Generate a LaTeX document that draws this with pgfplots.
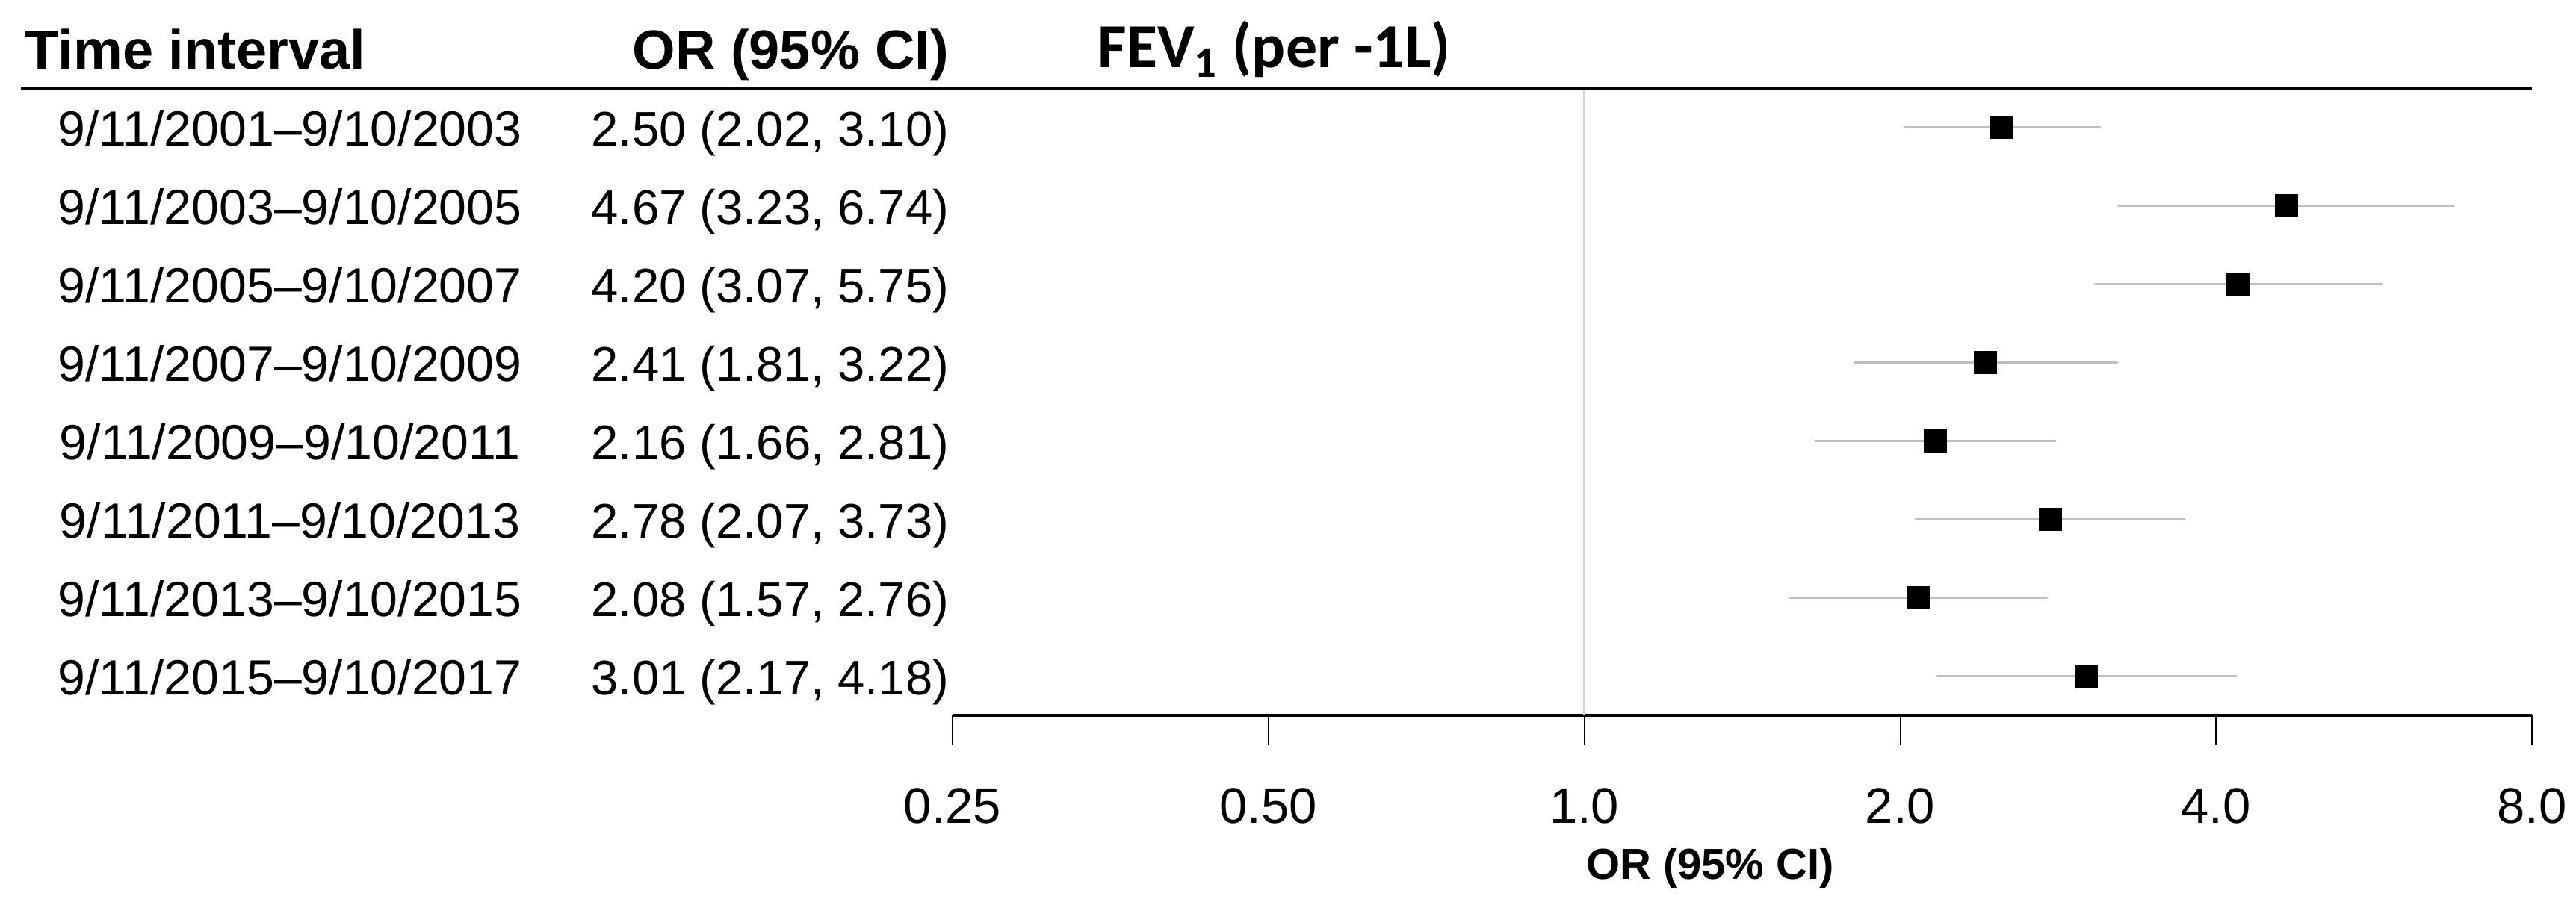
\documentclass[border=0pt]{standalone}
\usepackage{pgfplots}
\pgfplotsset{compat=1.18}
\usepackage{fontspec}
\setmainfont{Liberation Sans}
\newfontfamily\calfont{Carlito}
\definecolor{cigray}{HTML}{BEBEBE}
\definecolor{refgray}{HTML}{D3D3D3}
\tikzset{rowlab/.style={anchor=base, font=\fontsize{16.55}{20}\selectfont, inner sep=0pt},
         rowor/.style={anchor=base east, font=\fontsize{16.3}{20}\selectfont, inner sep=0pt}}
\pgfplotsset{ci/.style={cigray, line width=0.9pt, line cap=round, no marks, forget plot}}
\begin{document}
\begin{tikzpicture}
\useasboundingbox (0,0) rectangle (862pt,305pt);
\begin{axis}[
  at={(318.75pt,65.5pt)}, anchor=south west,
  width=528.5pt, height=210pt, scale only axis,
  xmode=log, log basis x=2,
  xmin=0.25, xmax=8, ymin=0.5, ymax=8.5,
  axis y line=none, axis x line*=bottom,
  x axis line style={line width=1.2pt},
  xtick={0.25,0.5,1,2,4,8},
  xticklabels={0.25,0.50,1.0,2.0,4.0,8.0},
  minor xtick={},
  tick align=outside, major tick length=10pt,
  xtick style={line width=0.4pt, black},
  /pgf/number format/assume math mode=true,
  xticklabel style={font=\fontsize{16.75}{20}\selectfont, anchor=base, yshift=-26.25pt},
  xlabel={\textbf{OR (95\% CI)}},
  xlabel style={font=\fontsize{14.5}{17}\selectfont, anchor=base, at={(rel axis cs:0.5,0)}, xshift=-10.75pt, yshift=-55pt},
  clip=false,
]
\draw[refgray, line width=0.9pt] (axis cs:1,0.5) -- (axis cs:1,8.5);
\draw[line width=1.2pt] ([xshift=-311.75pt]rel axis cs:0,1) -- (rel axis cs:1,1);
% CI segments
\addplot[ci] coordinates {(2.02,8) (3.10,8)};
\addplot[ci] coordinates {(3.23,7) (6.74,7)};
\addplot[ci] coordinates {(3.07,6) (5.75,6)};
\addplot[ci] coordinates {(1.81,5) (3.22,5)};
\addplot[ci] coordinates {(1.66,4) (2.81,4)};
\addplot[ci] coordinates {(2.07,3) (3.73,3)};
\addplot[ci] coordinates {(1.57,2) (2.76,2)};
\addplot[ci] coordinates {(2.17,1) (4.18,1)};
% point estimates
\addplot[only marks, mark=square*, mark size=3.7pt, black] coordinates {
(2.50,8) (4.67,7) (4.20,6) (2.41,5) (2.16,4) (2.78,3) (2.08,2) (3.01,1)};
% headers
\node[anchor=base west, font=\bfseries\fontsize{18.5}{22}\selectfont, inner sep=0pt] at ([xshift=-310.5pt,yshift=6.25pt]rel axis cs:0,1) {Time interval};
\node[anchor=base east, font=\bfseries\fontsize{18.5}{22}\selectfont, inner sep=0pt] at ([xshift=-1pt,yshift=6.25pt]rel axis cs:0,1) {OR (95\% CI)};
\node[anchor=base west, font=\calfont\bfseries\fontsize{21}{25}\selectfont, inner sep=0pt] at ([xshift=48.5pt,yshift=6.75pt]rel axis cs:0,1) {FEV\textsubscript{1} (per -1L)};
% row labels
\node[rowlab] at ([xshift=-221.75pt,yshift=-6.25pt]axis cs:0.25,8) {9/11/2001–9/10/2003};
\node[rowlab] at ([xshift=-221.75pt,yshift=-6.25pt]axis cs:0.25,7) {9/11/2003–9/10/2005};
\node[rowlab] at ([xshift=-221.75pt,yshift=-6.25pt]axis cs:0.25,6) {9/11/2005–9/10/2007};
\node[rowlab] at ([xshift=-221.75pt,yshift=-6.25pt]axis cs:0.25,5) {9/11/2007–9/10/2009};
\node[rowlab] at ([xshift=-221.75pt,yshift=-6.25pt]axis cs:0.25,4) {9/11/2009–9/10/2011};
\node[rowlab] at ([xshift=-221.75pt,yshift=-6.25pt]axis cs:0.25,3) {9/11/2011–9/10/2013};
\node[rowlab] at ([xshift=-221.75pt,yshift=-6.25pt]axis cs:0.25,2) {9/11/2013–9/10/2015};
\node[rowlab] at ([xshift=-221.75pt,yshift=-6.25pt]axis cs:0.25,1) {9/11/2015–9/10/2017};
\node[rowor] at ([xshift=-1pt,yshift=-6.25pt]axis cs:0.25,8) {2.50 (2.02, 3.10)};
\node[rowor] at ([xshift=-1pt,yshift=-6.25pt]axis cs:0.25,7) {4.67 (3.23, 6.74)};
\node[rowor] at ([xshift=-1pt,yshift=-6.25pt]axis cs:0.25,6) {4.20 (3.07, 5.75)};
\node[rowor] at ([xshift=-1pt,yshift=-6.25pt]axis cs:0.25,5) {2.41 (1.81, 3.22)};
\node[rowor] at ([xshift=-1pt,yshift=-6.25pt]axis cs:0.25,4) {2.16 (1.66, 2.81)};
\node[rowor] at ([xshift=-1pt,yshift=-6.25pt]axis cs:0.25,3) {2.78 (2.07, 3.73)};
\node[rowor] at ([xshift=-1pt,yshift=-6.25pt]axis cs:0.25,2) {2.08 (1.57, 2.76)};
\node[rowor] at ([xshift=-1pt,yshift=-6.25pt]axis cs:0.25,1) {3.01 (2.17, 4.18)};
\end{axis}
\end{tikzpicture}
\end{document}
